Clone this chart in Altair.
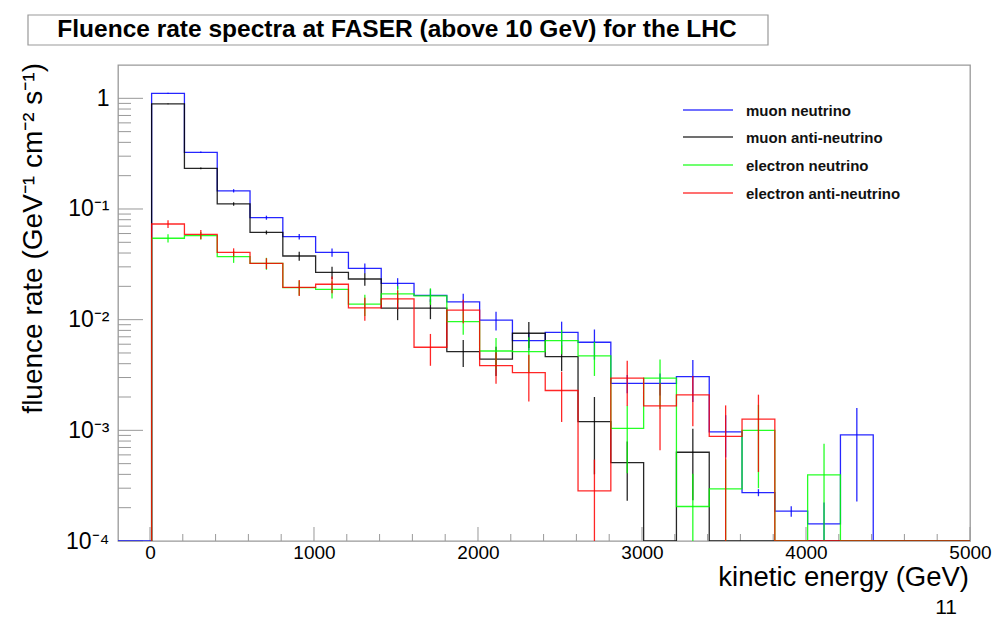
import altair as alt
import pandas as pd

# ---------------- data ----------------
bin_edges = [10, 210, 410, 610, 810, 1010, 1210, 1410, 1610, 1810, 2010, 2210, 2410,
             2610, 2810, 3010, 3210, 3410, 3610, 3810, 4010, 4210, 4410, 4610, 4810, 5010]

series_names = ["muon neutrino", "muon anti-neutrino", "electron neutrino", "electron anti-neutrino"]
series_colors = ["#0000ff", "#000000", "#00ff00", "#ff0000"]
line_start = [-200, 10, 10, 10]

numu = [1.11, 0.325, 0.146, 0.0835, 0.0562, 0.0405, 0.0291, 0.0213, 0.0166, 0.0145,
        0.0099, 0.00646, 0.00769, 0.00625, 0.00266, 0.00266, 0.00306, 0.00097, 0.000274,
        0.000186, 0.000143, 0.000908, 0, 0, 0]
numu_err = [0.012, 0.005, 0.005, 0.0035, 0.0032, 0.0035, 0.003, 0.0024, 0.0022, 0.0026,
            0.0019, 0.0012, 0.0019, 0.0019, 0.0005, 0.0006, 0.00126, 0.0004, 0.00002,
            0.00002, 0.00008, 0.00068, 0, 0, 0]

numubar = [0.89, 0.233, 0.111, 0.0614, 0.0376, 0.0267, 0.0233, 0.0127, 0.0127, 0.00514,
           0.0044, 0.00754, 0.00463, 0.0012, 0.000511, 0, 0.000634, 0, 0, 0, 0, 0, 0, 0, 0]
numubar_err = [0.008, 0.004, 0.004, 0.0025, 0.0035, 0.0034, 0.003, 0.0028, 0.0026, 0.0014,
               0.0013, 0.002, 0.0012, 0.0008, 0.00028, 0, 0.0004, 0, 0, 0, 0, 0, 0, 0, 0]

nue = [0.0544, 0.0574, 0.0371, 0.0322, 0.0195, 0.0188, 0.0138, 0.0171, 0.0164, 0.0096,
       0.00521, 0.00514, 0.00646, 0.0047, 0.00104, 0.00296, 0.000205, 0.000296, 0.001,
       0, 0.000396, 0, 0, 0, 0]
nue_err = [0.0046, 0.0045, 0.0045, 0.004, 0.003, 0.0033, 0.003, 0.003, 0.0028, 0.0023,
           0.0016, 0.0018, 0.0016, 0.0016, 0.00063, 0.0014, 0.0002, 0.00025, 0.0007,
           0, 0.00036, 0, 0, 0, 0]

nuebar = [0.0732, 0.059, 0.0406, 0.0323, 0.0196, 0.0209, 0.0128, 0.0154, 0.00563, 0.0122,
          0.00384, 0.00332, 0.00229, 0.000284, 0.00296, 0.00166, 0.00209, 0.00088, 0.00126,
          0, 0, 0, 0, 0, 0]
nuebar_err = [0.006, 0.0056, 0.0035, 0.0036, 0.0032, 0.0036, 0.003, 0.003, 0.0018, 0.0029,
              0.0012, 0.0015, 0.0011, 0.00026, 0.0013, 0.001, 0.001, 0.0008, 0.00084,
              0, 0, 0, 0, 0, 0]

series_values = [numu, numubar, nue, nuebar]
series_errors = [numu_err, numubar_err, nue_err, nuebar_err]

x_major_ticks = [0, 1000, 2000, 3000, 4000, 5000]
x_minor_ticks = [200, 400, 600, 800, 1200, 1400, 1600, 1800, 2200, 2400, 2600, 2800,
                 3200, 3400, 3600, 3800, 4200, 4400, 4600, 4800]
y_major_ticks = [1e-4, 1e-3, 1e-2, 1e-1, 1]
y_minor_ticks = [m * d for d in [1e-4, 1e-3, 1e-2, 1e-1] for m in range(2, 10)]

title_text = "Fluence rate spectra at FASER (above 10 GeV) for the LHC"
x_title = "kinetic energy (GeV)"
y_title = "fluence rate (GeV\u207b\u00b9 cm\u207b\u00b2 s\u207b\u00b9)"
page_number = "11"

X_DOMAIN = [-195, 5000]
Y_DOMAIN = [1e-4, 2]
Y_FLOOR = Y_DOMAIN[0]

# ---------------- layout ----------------
W, H = 852, 476
FONT = "Liberation Sans"
FRAME = "#999999"

xscale = alt.Scale(domain=X_DOMAIN, nice=False, zero=False)
yscale = alt.Scale(type="log", domain=Y_DOMAIN, nice=False)

x_axis = alt.Axis(
    values=x_major_ticks, format="d", title=None, ticks=False, domain=False, grid=False,
    labelFontSize=19, labelFont=FONT, labelColor="#000", labelPadding=2,
    labelFlush=False, labelOverlap=False)
y_axis = alt.Axis(
    values=y_major_ticks, title=None, ticks=False, domain=False, grid=False,
    labelFontSize=23, labelFont=FONT, labelColor="#000", labelPadding=9,
    labelOverlap=False, labelFlush=False,
    labelExpr="datum.value >= 0.5 ? '1' : datum.value >= 0.05 ? '10\u207b\u00b9' : "
              "datum.value >= 0.005 ? '10\u207b\u00b2' : datum.value >= 0.0005 ? '10\u207b\u00b3' : '10\u207b\u2074'")


def X(field):
    return alt.X(field, scale=xscale, axis=x_axis)


def Y(field):
    return alt.Y(field, scale=yscale, axis=y_axis)


def step_table(vals, start):
    xs = [start] + bin_edges[:-1] + [bin_edges[-1]]
    ys = [Y_FLOOR] + [v if v > 0 else Y_FLOOR for v in vals] + [vals[-1] if vals[-1] > 0 else Y_FLOOR]
    return pd.DataFrame({"x": xs, "y": ys, "o": list(range(len(xs)))})


def err_table(vals, errs):
    rows = []
    for i, (v, e) in enumerate(zip(vals, errs)):
        if v > 0:
            c = (bin_edges[i] + bin_edges[i + 1]) / 2
            rows.append({"x": c, "lo": max(v - e, Y_FLOOR), "hi": v + e})
    return pd.DataFrame(rows)


layers = []

# inner ticks (ROOT style)
layers.append(alt.Chart(pd.DataFrame({"v": x_major_ticks})).mark_rule(color=FRAME, strokeWidth=1).encode(
    x=X("v:Q"), y=alt.value(H), y2=alt.value(H - 14)))
layers.append(alt.Chart(pd.DataFrame({"v": x_minor_ticks})).mark_rule(color=FRAME, strokeWidth=1).encode(
    x=X("v:Q"), y=alt.value(H), y2=alt.value(H - 7)))
layers.append(alt.Chart(pd.DataFrame({"v": y_major_ticks})).mark_rule(color=FRAME, strokeWidth=1).encode(
    y=Y("v:Q"), x=alt.value(0), x2=alt.value(25)))
layers.append(alt.Chart(pd.DataFrame({"v": y_minor_ticks})).mark_rule(color=FRAME, strokeWidth=1).encode(
    y=Y("v:Q"), x=alt.value(0), x2=alt.value(13)))

# histograms
for name, color, vals, errs, start in zip(series_names, series_colors, series_values, series_errors, line_start):
    layers.append(alt.Chart(step_table(vals, start)).mark_line(
        interpolate="step-after", color=color, strokeWidth=1.3, clip=True, opacity=0.85).encode(
        x=X("x:Q"), y=Y("y:Q"), order="o:Q"))
    layers.append(alt.Chart(err_table(vals, errs)).mark_rule(
        color=color, strokeWidth=1.3, clip=True, opacity=0.85).encode(
        x=X("x:Q"), y=Y("lo:Q"), y2="hi:Q"))

# legend (ROOT TLegend-like, no border)
legend_rows_y = [45, 72, 100, 128]
for name, color, ly in zip(series_names, series_colors, legend_rows_y):
    layers.append(alt.Chart(pd.DataFrame({"t": [name]})).mark_rule(color=color, strokeWidth=1.5, opacity=0.75).encode(
        x=alt.value(565), x2=alt.value(615), y=alt.value(ly)))
    layers.append(alt.Chart(pd.DataFrame({"t": [name]})).mark_text(
        align="left", baseline="middle", font=FONT, fontSize=15, fontWeight="bold", color="#111").encode(
        x=alt.value(628), y=alt.value(ly + 1), text="t:N"))

# title box
layers.append(alt.Chart(pd.DataFrame({"t": [title_text]})).mark_rect(
    fill="white", stroke=FRAME, strokeWidth=1.2).encode(
    x=alt.value(-90), x2=alt.value(650), y=alt.value(-50), y2=alt.value(-20)))
layers.append(alt.Chart(pd.DataFrame({"t": [title_text]})).mark_text(
    align="center", baseline="middle", font=FONT, fontSize=24.5, fontWeight="bold", color="#000").encode(
    x=alt.value(279), y=alt.value(-35), text="t:N"))

# axis titles
layers.append(alt.Chart(pd.DataFrame({"t": [x_title]})).mark_text(
    align="right", baseline="middle", font=FONT, fontSize=27.5, color="#000").encode(
    x=alt.value(851), y=alt.value(513), text="t:N"))
layers.append(alt.Chart(pd.DataFrame({"t": [y_title]})).mark_text(
    align="right", baseline="middle", angle=270, font=FONT, fontSize=28, color="#000").encode(
    x=alt.value(-84), y=alt.value(-2), text="t:N"))
layers.append(alt.Chart(pd.DataFrame({"t": [page_number]})).mark_text(
    align="right", baseline="alphabetic", font=FONT, fontSize=21, color="#000").encode(
    x=alt.value(839), y=alt.value(549), text="t:N"))

chart = alt.layer(*layers).properties(
    width=W, height=H,
    autosize=alt.AutoSizeParams(type="none"),
    padding={"left": 118, "top": 65, "right": 22, "bottom": 78},
    background="white",
).configure_view(stroke=FRAME, strokeWidth=1.3)

chart.save("out.html", embed_options={"renderer": "svg", "actions": False})
